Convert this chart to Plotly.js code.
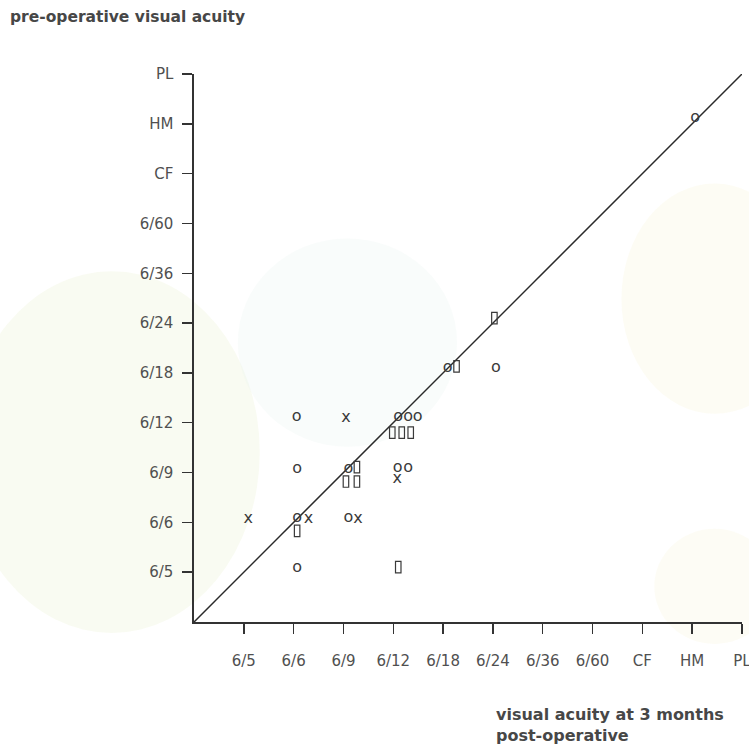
<!DOCTYPE html>
<html>
<head>
<meta charset="utf-8">
<script src="https://cdn.plot.ly/plotly-3.0.1.min.js"></script>
<style>
  html, body { margin: 0; padding: 0; background: #ffffff; }
  #chart { width: 749px; height: 747px; }
</style>
</head>
<body>
<div id="chart"></div>
<script>
// Category labels (both axes share the same scale)
const acuityLabels = ["6/5", "6/6", "6/9", "6/12", "6/18", "6/24", "6/36", "6/60", "CF", "HM", "PL"];
const acuityIndex = [1, 2, 3, 4, 5, 6, 7, 8, 9, 10, 11];

// Line of equality
const diagX = [0, 11];
const diagY = [0, 11];

// "o" points (post-op x, pre-op y), as placed in the figure
const circlesX = [2.06, 4.10, 4.30, 4.49, 2.07, 3.10, 4.09, 4.30, 2.07, 3.10, 2.07, 5.09, 6.06, 10.06];
const circlesY = [4.12, 4.12, 4.12, 4.12, 3.07, 3.07, 3.09, 3.09, 2.08, 2.08, 1.09, 5.09, 5.09, 10.12];

// "x" points
const crossesX = [3.05, 4.08, 1.09, 2.30, 3.29];
const crossesY = [4.10, 2.87, 2.06, 2.06, 2.06];

// rectangle points
const rectsX = [3.98, 4.17, 4.35, 3.27, 3.05, 3.27, 2.07, 4.10, 6.03, 5.27];
const rectsY = [3.80, 3.80, 3.80, 3.11, 2.82, 2.82, 1.83, 1.10, 6.10, 5.13];

const ink = "#3a3a3a";
const glyphFont = { family: "DejaVu Sans", size: 16, color: ink };

function glyphTrace(xs, ys, ch) {
  return {
    type: "scatter", mode: "text",
    x: xs, y: ys,
    text: xs.map(() => ch),
    textposition: "middle center",
    textfont: glyphFont,
    hoverinfo: "skip", showlegend: false, cliponaxis: false
  };
}

const traces = [
  { type: "scatter", mode: "lines", x: diagX, y: diagY,
    line: { color: "#2a2a2a", width: 1.5 }, hoverinfo: "skip", showlegend: false, cliponaxis: false },
  glyphTrace(circlesX, circlesY, "o"),
  glyphTrace(crossesX, crossesY, "x")
];

// small upright rectangles, placed through the axes from the data arrays
const rectHalfW = 0.055, rectHalfH = 0.115;
const rectShapes = rectsX.map((x, i) => ({
  type: "rect", xref: "x", yref: "y", layer: "above",
  x0: x - rectHalfW, x1: x + rectHalfW,
  y0: rectsY[i] - rectHalfH, y1: rectsY[i] + rectHalfH,
  line: { color: ink, width: 1.2 }, fillcolor: "rgba(0,0,0,0)"
}));

const blobShapes = [
  { type: "circle", xref: "paper", yref: "paper", layer: "below",
    x0: -0.42, x1: 0.12, y0: -0.02, y1: 0.64, line: { width: 0 }, fillcolor: "rgba(240,245,222,0.40)" },
  { type: "circle", xref: "paper", yref: "paper", layer: "below",
    x0: 0.08, x1: 0.48, y0: 0.32, y1: 0.70, line: { width: 0 }, fillcolor: "rgba(232,245,240,0.28)" },
  { type: "circle", xref: "paper", yref: "paper", layer: "below",
    x0: 0.78, x1: 1.12, y0: 0.38, y1: 0.80, line: { width: 0 }, fillcolor: "rgba(251,248,228,0.42)" },
  { type: "circle", xref: "paper", yref: "paper", layer: "below",
    x0: 0.84, x1: 1.06, y0: -0.04, y1: 0.17, line: { width: 0 }, fillcolor: "rgba(251,249,230,0.42)" }
];

const axisCommon = {
  range: [0, 11],
  tickmode: "array",
  tickvals: acuityIndex,
  ticktext: acuityLabels,
  ticks: "outside",
  ticklen: 10,
  tickwidth: 1.5,
  tickcolor: "#333",
  showline: true,
  linecolor: "#333",
  linewidth: 1.6,
  showgrid: false,
  zeroline: false,
  fixedrange: true,
  ticklabeloverflow: "allow",
  tickfont: { family: "DejaVu Sans", size: 15, color: "#505050" }
};

const layout = {
  width: 749, height: 747,
  margin: { l: 194, r: 7, t: 74, b: 125 },
  paper_bgcolor: "#ffffff",
  plot_bgcolor: "rgba(0,0,0,0)",
  xaxis: Object.assign({}, axisCommon, { ticklabelstandoff: 14 }),
  yaxis: Object.assign({}, axisCommon, { ticklabelstandoff: 6 }),
  shapes: blobShapes.concat(rectShapes),
  annotations: [
    { text: "pre-operative visual acuity", xref: "paper", yref: "paper",
      x: -0.340, y: 1.104, xanchor: "left", yanchor: "middle", showarrow: false,
      font: { family: "DejaVu Sans", size: 15.5, color: "#474747", weight: "bold" } },
    { text: "visual acuity at 3 months<br>post-operative", xref: "paper", yref: "paper",
      x: 0.547, y: -0.148, xanchor: "left", yanchor: "top", align: "left", showarrow: false,
      font: { family: "DejaVu Sans", size: 16, color: "#474747", weight: "bold" } }
  ]
};

Plotly.newPlot("chart", traces, layout, { displayModeBar: false, staticPlot: true });
</script>
</body>
</html>
